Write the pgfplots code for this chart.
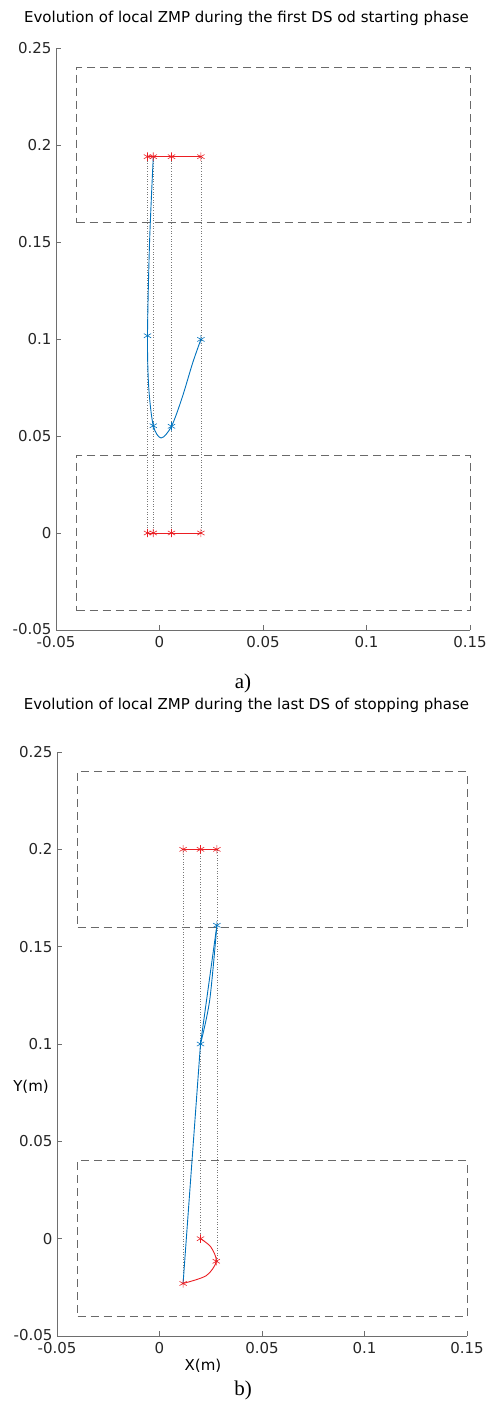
\documentclass[border=0pt]{standalone}
\usepackage{pgfplots}
\pgfplotsset{compat=1.18}
\usepackage{fontspec}
\setmainfont{DejaVu Sans}
\newfontfamily\capfont{Liberation Serif}
\definecolor{mblue}{RGB}{0,114,189}
\definecolor{mred}{RGB}{235,30,35}
\definecolor{axgray}{RGB}{110,110,110}
\definecolor{boxgray}{RGB}{105,105,105}
\definecolor{dotgray}{RGB}{120,120,120}
\pgfplotsset{
  zmp/.style={
    scale only axis,
    xmin=-0.05,xmax=0.15,ymin=-0.05,ymax=0.25,
    axis lines*=left,
    axis line style={axgray,line width=0.7pt},
    tick align=inside,
    major tick length=5pt,
    tick style={axgray,line width=0.7pt},
    xtick={-0.05,0,0.05,0.1,0.15},
    xticklabels={-0.05,0,0.05,0.1,0.15},
    ytick={-0.05,0,0.05,0.1,0.15,0.2,0.25},
    yticklabels={\raisebox{3pt}{-0.05},0,0.05,0.1,0.15,0.2,0.25},
    ticklabel style={font=\fontsize{15}{17}\selectfont, text=black!85},
    xticklabel style={yshift=-3pt},
    yticklabel style={xshift=-1pt},
    clip=false,
  },
  rect/.style={boxgray,line width=0.9pt,dash pattern=on 8pt off 5pt},
  vdot/.style={dotgray,line width=0.6pt,dotted},
  redl/.style={mred,line width=0.9pt},
  redm/.style={mred,only marks,mark=asterisk,mark size=4.2pt,mark options={line width=0.6pt}},
  bluel/.style={mblue,line width=0.9pt},
  bluem/.style={mblue,only marks,mark=asterisk,mark size=4.2pt,mark options={line width=0.6pt}},
}
\begin{document}
\begin{tikzpicture}
\path[use as bounding box] (0,0) rectangle (486pt,-1409pt);
% ---------- a) ----------
\begin{axis}[zmp, at={(56pt,-630pt)}, anchor=south west, width=414pt, height=582pt]
\addplot[rect] coordinates {(-0.04,0.16) (0.15,0.16) (0.15,0.24) (-0.04,0.24) (-0.04,0.16)};
\addplot[rect] coordinates {(-0.04,-0.04) (0.15,-0.04) (0.15,0.04) (-0.04,0.04) (-0.04,-0.04)};
\addplot[vdot] coordinates {(-0.0058,0) (-0.0058,0.194)};
\addplot[vdot] coordinates {(-0.003,0) (-0.003,0.194)};
\addplot[vdot] coordinates {(0.0058,0) (0.0058,0.194)};
\addplot[vdot] coordinates {(0.02,0) (0.02,0.194)};
\addplot[bluel,smooth,tension=0.5] coordinates {
(-0.003,0.194) (-0.0048,0.15) (-0.0058,0.1017) (-0.0052,0.075) (-0.003,0.0553) (0.0008,0.049) (0.0058,0.055) (0.011,0.070) (0.016,0.0876) (0.02,0.0998)};
\addplot[bluem] coordinates {(-0.0058,0.1017) (-0.003,0.0553) (0.0058,0.055) (0.02,0.0998)};
\addplot[redl] coordinates {(-0.0058,0.194) (-0.003,0.194) (0.0058,0.194) (0.02,0.194)};
\addplot[redm] coordinates {(-0.0058,0.194) (-0.003,0.194) (0.0058,0.194) (0.02,0.194)};
\addplot[redl] coordinates {(-0.0058,0) (-0.003,0) (0.0058,0) (0.02,0)};
\addplot[redm] coordinates {(-0.0058,0) (-0.003,0) (0.0058,0) (0.02,0)};
\end{axis}
% ---------- b) ----------
\begin{axis}[zmp, at={(57pt,-1336pt)}, anchor=south west, width=410pt, height=584pt]
\addplot[rect] coordinates {(-0.04,0.16) (0.15,0.16) (0.15,0.24) (-0.04,0.24) (-0.04,0.16)};
\addplot[rect] coordinates {(-0.04,-0.04) (0.15,-0.04) (0.15,0.04) (-0.04,0.04) (-0.04,-0.04)};
\addplot[vdot] coordinates {(0.0115,-0.023) (0.0115,0.2)};
\addplot[vdot] coordinates {(0.02,0) (0.02,0.2)};
\addplot[vdot] coordinates {(0.028,-0.0116) (0.028,0.2)};
\addplot[bluel] coordinates {(0.0115,-0.023) (0.02,0.1) (0.028,0.161)};
\addplot[bluel,smooth] coordinates {(0.028,0.161) (0.0245,0.1226) (0.02,0.1)};
\addplot[bluem] coordinates {(0.02,0.1) (0.028,0.161)};
\addplot[redl,smooth] coordinates {(0.02,0.0) (0.025,-0.0042) (0.0277,-0.0116) (0.0228,-0.0190) (0.0115,-0.023)};
\addplot[redm] coordinates {(0.02,0.0) (0.0277,-0.0116) (0.0115,-0.023)};
\addplot[redl] coordinates {(0.0115,0.2) (0.02,0.2) (0.028,0.2)};
\addplot[redm] coordinates {(0.0115,0.2) (0.02,0.2) (0.028,0.2)};
\end{axis}
% titles and labels
\node[font=\fontsize{15}{17}\selectfont] at (246.5pt,-18pt) {Evolution of local ZMP during the first DS od starting phase};
\node[font=\fontsize{15}{17}\selectfont] at (246.5pt,-705pt) {Evolution of local ZMP during the last DS of stopping phase};
\node[font=\fontsize{15}{17}\selectfont] at (31pt,-1087pt) {Y(m)};
\node[font=\fontsize{15}{17}\selectfont] at (203pt,-1366pt) {X(m)};
\node[font=\capfont\fontsize{21}{23}\selectfont] at (243pt,-683pt) {a)};
\node[font=\capfont\fontsize{21}{23}\selectfont] at (243pt,-1390pt) {b)};
\end{tikzpicture}
\end{document}
